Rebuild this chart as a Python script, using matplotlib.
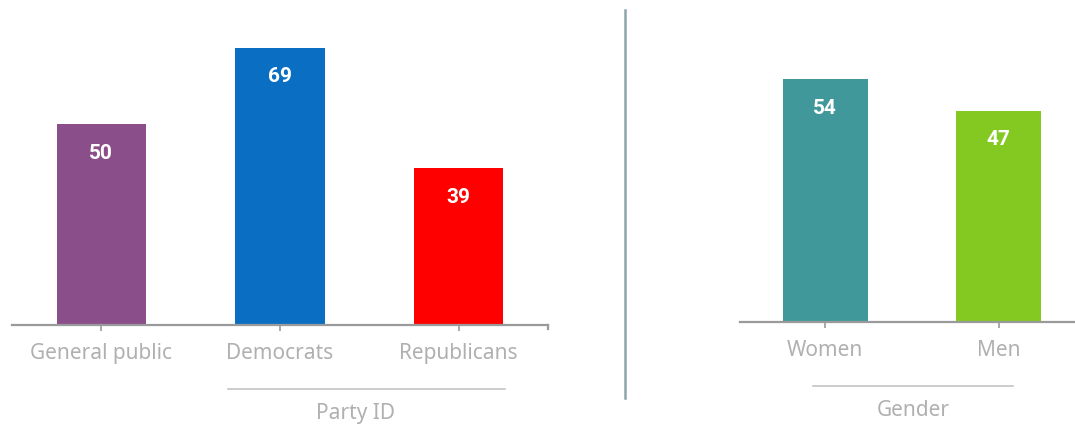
import matplotlib.pyplot as plt
from matplotlib.lines import Line2D

party_labels = ['General public', 'Democrats', 'Republicans']
party_values = [50, 69, 39]
party_colors = ['#8a4f8a', '#0a6fc2', '#fe0000']

gender_labels = ['Women', 'Men']
gender_values = [54, 47]
gender_colors = ['#41989a', '#84c922']

plt.rcParams['font.family'] = ['Noto Sans', 'DejaVu Sans']

W, H = 1075, 428
fig = plt.figure(figsize=(W / 100, H / 100), dpi=100)

label_col = '#b0b0b0'
axis_col = '#9a9a9a'
fs = 15


def make_axes(x0, x1, base, top):
    # pixel coords -> figure fraction
    return fig.add_axes([x0 / W, (H - base) / H, (x1 - x0) / W, (base - top) / H])


def style(ax, labels):
    for s in ['top', 'left', 'right']:
        ax.spines[s].set_visible(False)
    ax.spines['bottom'].set_color(axis_col)
    ax.spines['bottom'].set_linewidth(1.6)
    ax.set_yticks([])
    ax.set_xticks(range(len(labels)))
    ax.set_xticklabels(labels, fontsize=fs, color=label_col)
    ax.tick_params(axis='x', length=4, width=1.2, color=axis_col, pad=9)


def value_labels(ax, bars, values):
    for b, v in zip(bars, values):
        ax.annotate(str(v), (b.get_x() + b.get_width() / 2, v),
                    xytext=(0, -21), textcoords='offset points',
                    ha='center', va='center', color='white',
                    fontsize=15, fontweight='bold',
                    family=['Roboto', 'DejaVu Sans'])


# left panel: party
ax1 = make_axes(12, 548, 325, 10)
bars1 = ax1.bar(range(3), party_values, width=0.5, color=party_colors)
ax1.set_xlim(-0.5, 2.5)
ax1.set_ylim(0, 315 / 4.02)
style(ax1, party_labels)
value_labels(ax1, bars1, party_values)
ax1.plot([2.5, 2.5], [0, -0.012], transform=ax1.get_xaxis_transform(),
         color=axis_col, lw=1.6, clip_on=False)

# right panel: gender
ax2 = make_axes(740, 1075, 322, 10)
bars2 = ax2.bar(range(2), gender_values, width=0.49, color=gender_colors)
ax2.set_xlim(-0.49, 1.44)
ax2.set_ylim(0, 312 / 4.5)
style(ax2, gender_labels)
value_labels(ax2, bars2, gender_values)

# group underlines and titles (figure pixel coords)
def px_line(x0, x1, y0, y1, col, lw):
    fig.add_artist(Line2D([x0 / W, x1 / W], [1 - y0 / H, 1 - y1 / H],
                          color=col, lw=lw, transform=fig.transFigure))

px_line(228, 505, 389, 389, '#c4c4c4', 1.2)
fig.text(355 / W, 1 - 413 / H, 'Party ID', ha='center', va='center',
         fontsize=fs, color=label_col)
px_line(813, 1013, 386, 386, '#c4c4c4', 1.2)
fig.text(913 / W, 1 - 410 / H, 'Gender', ha='center', va='center',
         fontsize=fs, color=label_col)

# divider
px_line(625, 625, 10, 398, '#8ea4ae', 1.8)

fig.savefig('out.png', dpi=100, facecolor='white')
